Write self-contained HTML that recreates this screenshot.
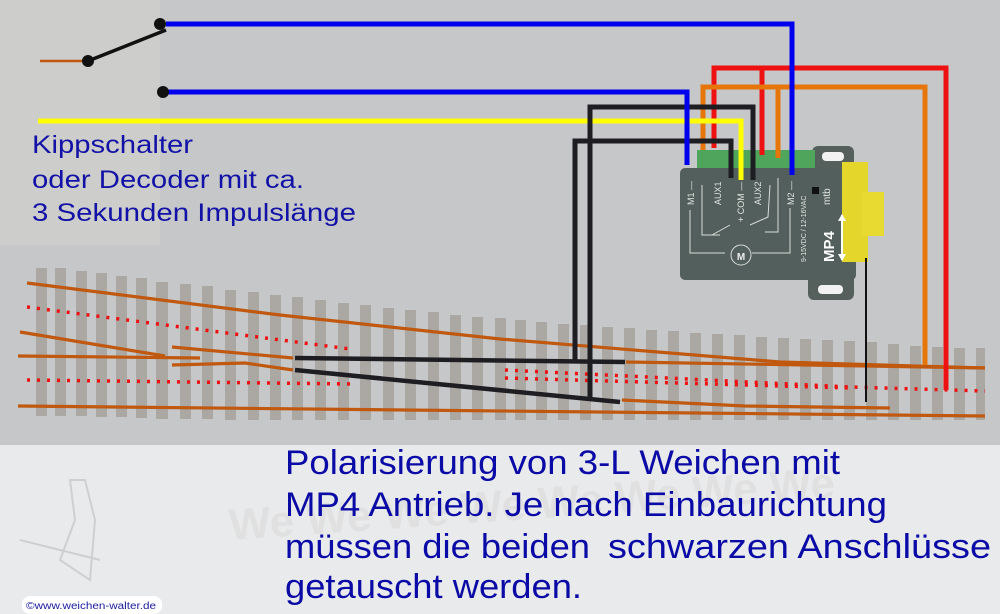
<!DOCTYPE html>
<html><head><meta charset="utf-8"><style>
html,body{margin:0;padding:0;background:#c5c7c9;}
svg{display:block}
</style></head><body>
<svg width="1000" height="614" viewBox="0 0 1000 614" xmlns="http://www.w3.org/2000/svg" font-family="Liberation Sans, Arial, sans-serif">
<rect x="0" y="0" width="1000" height="445" fill="#c5c7c9"/>
<rect x="0" y="0" width="160" height="245" fill="#cdcdcb"/>
<rect x="0" y="445" width="1000" height="169" fill="#e9eaeb"/>
<!-- watermark -->
<g fill="none" stroke="#cfcfcf" stroke-width="2">
<path d="M70 480 L75 520 L60 560 L90 580 L95 520 L85 480 Z"/>
<path d="M20 540 L100 560"/>
</g>
<text x="230" y="540" font-size="44" font-weight="bold" fill="#e0e0e0" transform="rotate(-4 230 540)">We We We We We We We We</text>
<!-- sleepers -->
<g fill="#aba8a4">
<rect x="36" y="268" width="11" height="148"/><rect x="55" y="268" width="11" height="148"/><rect x="76" y="271" width="11" height="145"/><rect x="96" y="273" width="11" height="144"/><rect x="116" y="276" width="11" height="141"/><rect x="136" y="278" width="11" height="140"/><rect x="156" y="282" width="12" height="137"/><rect x="180" y="284" width="11" height="135"/><rect x="202" y="286" width="11" height="133"/><rect x="225" y="290" width="11" height="130"/><rect x="248" y="292" width="11" height="128"/><rect x="270" y="295" width="11" height="125"/><rect x="292" y="297" width="11" height="123"/><rect x="315" y="300" width="11" height="120"/><rect x="338" y="303" width="11" height="117"/><rect x="360" y="305" width="11" height="115"/><rect x="383" y="308" width="11" height="112"/><rect x="405" y="310" width="11" height="110"/><rect x="428" y="312" width="11" height="108"/><rect x="450" y="315" width="11" height="105"/><rect x="472" y="317" width="11" height="103"/><rect x="495" y="318" width="11" height="102"/><rect x="515" y="320" width="11" height="100"/><rect x="536" y="322" width="11" height="98"/><rect x="558" y="324" width="11" height="96"/><rect x="580" y="325" width="11" height="95"/><rect x="602" y="327" width="11" height="93"/><rect x="624" y="328" width="11" height="92"/><rect x="646" y="330" width="11" height="90"/><rect x="668" y="331" width="11" height="89"/><rect x="690" y="333" width="11" height="87"/><rect x="712" y="334" width="11" height="86"/><rect x="734" y="335" width="11" height="85"/><rect x="756" y="337" width="11" height="83"/><rect x="778" y="338" width="11" height="82"/><rect x="800" y="339" width="11" height="81"/><rect x="822" y="340" width="11" height="80"/><rect x="844" y="341" width="11" height="79"/><rect x="866" y="342" width="11" height="78"/><rect x="888" y="344" width="11" height="76"/><rect x="910" y="346" width="11" height="74"/><rect x="932" y="347" width="11" height="73"/><rect x="954" y="348" width="11" height="72"/><rect x="976" y="348" width="9" height="72"/>
</g>
<!-- rails -->
<g fill="none" stroke="#c0580f" stroke-width="3.2">
<polyline points="27,283 280,315 500,339 780,362 985,368"/>
<polyline points="20,332 165,356"/>
<polyline points="18,356 200,358"/>
<polyline points="172,347 293,358"/>
<polyline points="172,365 245,363 293,370"/>
<polyline points="626,362 985,368"/>
<polyline points="622,400 745,406 890,408"/>
<polyline points="18,406 985,416"/>
</g>
<g fill="none" stroke="#ee1111" stroke-width="3.5" stroke-dasharray="3,7">
<polyline points="27,307 350,349"/>
<polyline points="27,380 353,384"/>
<polyline points="505,370 850,387 985,391"/>
<polyline points="505,378 850,388"/>
</g>
<g stroke="#1e1e22" stroke-width="4.5" fill="none">
<polyline points="295,358 625,362"/>
<polyline points="295,370 620,402"/>
</g>
<!-- MP4 box -->
<rect x="812" y="146" width="42" height="30" rx="6" fill="#55605d"/>
<rect x="822" y="152" width="22" height="9" rx="4" fill="#f2f2f2"/>
<rect x="808" y="270" width="46" height="30" rx="6" fill="#55605d"/>
<rect x="818" y="285" width="25" height="9" rx="4" fill="#f2f2f2"/>
<rect x="697" y="150" width="118" height="22" fill="#4fa55c"/>
<rect x="680" y="168" width="176" height="112" rx="5" fill="#535f5c"/>
<rect x="842" y="162" width="26" height="100" fill="#e4d62a"/>
<rect x="862" y="192" width="22" height="44" fill="#e8da30"/>
<g stroke="#d8dcd8" stroke-width="1" fill="none">
<polyline points="690,210 690,253 725,253"/><polyline points="752,253 790,253 790,208"/>
<polyline points="702,185 702,235 720,235"/><polyline points="712,235 730,225"/>
<polyline points="750,225 768,217 770,185"/><polyline points="765,232 778,232 778,178"/>
<circle cx="741" cy="255" r="10"/>
</g>
<text x="741" y="260" font-size="10" font-weight="bold" fill="#eee" text-anchor="middle">M</text>
<g font-size="9" fill="#e0e4e0">
<text transform="translate(694,205) rotate(-90)">M1 —</text>
<text transform="translate(721,205) rotate(-90)">AUX1</text>
<text transform="translate(744,222) rotate(-90)">+ COM —</text>
<text transform="translate(761,205) rotate(-90)">AUX2</text>
<text transform="translate(794,205) rotate(-90)">M2 —</text>
<text transform="translate(806,262) rotate(-90)" font-size="7">9-15VDC / 12-16VAC</text>
<text transform="translate(834,262) rotate(-90)" font-size="15" font-weight="bold" fill="#fff">MP4</text>
<text transform="translate(830,205) rotate(-90)" font-size="10">mtb</text>
</g>
<rect x="812" y="187" width="7" height="7" fill="#111"/>
<path d="M842 215 L842 260" stroke="#fff" stroke-width="2"/><path d="M838 221 L842 214 L846 221 M838 254 L842 261 L846 254" fill="#fff"/>
<!-- wires -->
<g fill="none" stroke-width="5" stroke-linejoin="miter">
<polyline stroke="#ee1111" points="714,148 714,68 946,68 946,390"/>
<polyline stroke="#ee1111" points="762,155 762,68"/>
<polyline stroke="#e6760a" points="703,150 703,87 925,87 925,365"/>
<polyline stroke="#e6760a" points="778,158 778,87"/>
<polyline stroke="#ffff00" points="38,121 741,121 741,180"/>
<polyline stroke="#1e1e22" points="590,397 590,107 753,107 753,180"/>
<polyline stroke="#1e1e22" points="575,362 575,141 731,141 731,178"/>
<polyline stroke="#0000ee" points="166,24 792,24 792,175"/>
<polyline stroke="#0000ee" points="166,92 687,92 687,165"/>
</g>
<line x1="866" y1="258" x2="866" y2="402" stroke="#111" stroke-width="2"/>
<!-- switch -->
<line x1="40" y1="61" x2="88" y2="61" stroke="#c0580f" stroke-width="2.5"/>
<line x1="88" y1="61" x2="166" y2="30" stroke="#111" stroke-width="3.5"/>
<circle cx="88" cy="61" r="6" fill="#111"/>
<circle cx="160" cy="24" r="6" fill="#111"/>
<circle cx="163" cy="92" r="6" fill="#111"/>
<!-- texts -->
<g fill="#1212a6" font-size="25">
<text x="32" y="153" textLength="161" lengthAdjust="spacingAndGlyphs">Kippschalter</text>
<text x="32" y="188" textLength="272" lengthAdjust="spacingAndGlyphs">oder Decoder mit ca.</text>
<text x="32" y="221" textLength="324" lengthAdjust="spacingAndGlyphs">3 Sekunden Impulslänge</text>
</g>
<g fill="#0a0aa6" font-size="34">
<text x="285" y="474" textLength="555" lengthAdjust="spacingAndGlyphs">Polarisierung von 3-L Weichen mit</text>
<text x="285" y="516" textLength="602" lengthAdjust="spacingAndGlyphs">MP4 Antrieb. Je nach Einbaurichtung</text>
<text x="285" y="558" textLength="305" lengthAdjust="spacingAndGlyphs">müssen die beiden</text>
<text x="608" y="558" textLength="383" lengthAdjust="spacingAndGlyphs">schwarzen Anschlüsse</text>
<text x="285" y="598" textLength="297" lengthAdjust="spacingAndGlyphs">getauscht werden.</text>
</g>
<rect x="22" y="596" width="140" height="18" rx="8" fill="#fff"/>
<text x="26" y="609" font-size="10" fill="#1a1aa0" textLength="130" lengthAdjust="spacingAndGlyphs">©www.weichen-walter.de</text>
</svg>
</body></html>
